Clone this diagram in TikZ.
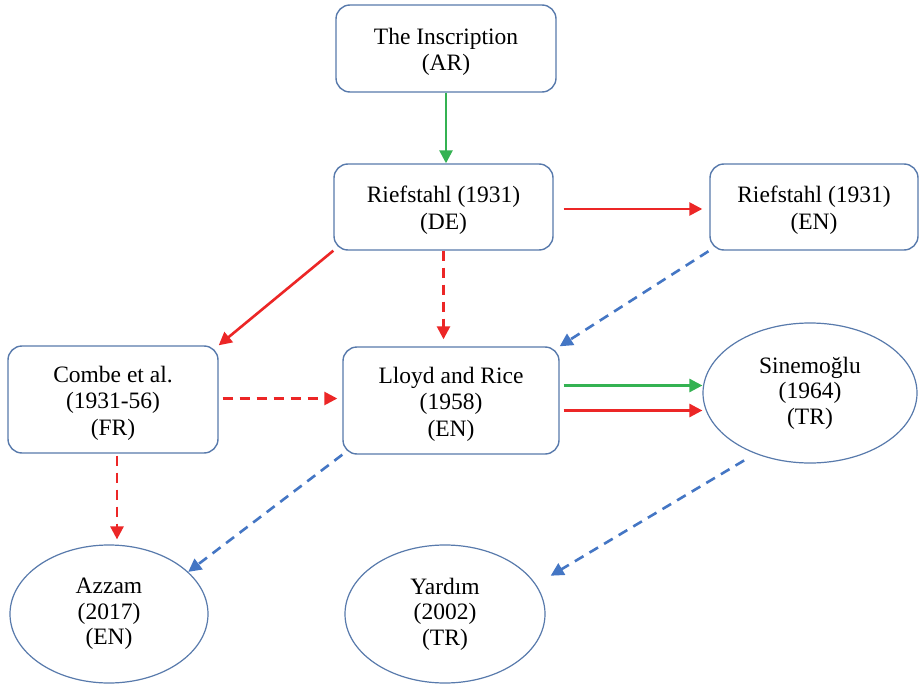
\documentclass[tikz,border=0pt]{standalone}
\usepackage{fontspec}
\setmainfont{Liberation Serif}
\usetikzlibrary{arrows.meta,shapes.geometric}
\definecolor{bordblue}{RGB}{88,122,172}
\definecolor{arred}{RGB}{236,38,38}
\definecolor{argreen}{RGB}{52,178,82}
\definecolor{arblue}{RGB}{68,118,196}
\newcommand{\tstrut}{\rule{0pt}{23pt}}
\begin{document}
\begin{tikzpicture}[x=1pt,y=-1pt,
  box/.style={draw=bordblue, line width=1.4pt, rounded corners=14pt, fill=white,
    align=center, inner sep=0pt, font=\fontsize{23.5}{26.5}\selectfont},
  oval/.style={ellipse, draw=bordblue, line width=1.2pt, fill=white,
    align=center, inner sep=0pt, font=\fontsize{23.5}{25.5}\selectfont},
  arr/.style={line width=2.6pt, -{Triangle[length=13pt,width=13pt]}},
  dsh/.style={dash pattern=on 10pt off 7pt},
]
\useasboundingbox (0,0) rectangle (921,690);
\fill[white] (0,0) rectangle (921,690);

\node[box, minimum width=220pt, minimum height=87pt] (ins) at (446,48.5) {\tstrut The Inscription\\(AR)};
\node[box, minimum width=219pt, minimum height=86pt] (rde) at (443.5,207) {\tstrut Riefstahl (1931)\\(DE)};
\node[box, minimum width=208pt, minimum height=86pt] (ren) at (814,207) {\tstrut Riefstahl (1931)\\(EN)};
\node[box, minimum width=210pt, minimum height=107pt] (combe) at (113,399.5) {\tstrut Combe et al.\\(1931-56)\\(FR)};
\node[box, minimum width=216pt, minimum height=107pt] (lloyd) at (451,400.5) {\tstrut Lloyd and Rice\\(1958)\\(EN)};
\node[oval, minimum width=214pt, minimum height=140pt] (sin) at (810,393) {Sinemoğlu\\(1964)\\(TR)};
\node[oval, minimum width=198pt, minimum height=138pt] (azz) at (109,614) {Azzam\\(2017)\\(EN)};
\node[oval, minimum width=200pt, minimum height=138pt] (yar) at (445,614) {Yardım\\(2002)\\(TR)};

\draw[arr, argreen] (ins.south) -- (ins.south |- rde.north);
\draw[arr, arred] ([xshift=10pt,yshift=-2pt]rde.east) -- ([xshift=-7pt,yshift=-2pt]ren.west);
\draw[arr, arred] (rde.south west) -- (combe.north east);
\draw[arr, arred, dsh, shorten >=7pt] (rde.south) -- (rde.south |- lloyd.north);
\draw[arr, arblue, dsh, shorten <=1pt] (ren.south west) -- (lloyd.north east);
\draw[arr, arred, dsh] ([xshift=4pt,yshift=1pt]combe.east) -- ([xshift=-5pt,yshift=1pt]combe.east -| lloyd.west);
\draw[arr, argreen] ([xshift=4pt,yshift=15pt]lloyd.east) -- ([yshift=15pt]lloyd.east -| sin.west);
\draw[arr, arred] ([xshift=4pt,yshift=-10pt]lloyd.east) -- ([yshift=-10pt]lloyd.east -| sin.west);
\draw[arr, arred, dsh, shorten <=2pt, shorten >=5pt] ([xshift=4pt]combe.south) -- ([xshift=4pt]combe.south |- azz.north);
\draw[arr, arblue, dsh] (lloyd.south west) -- (azz.28);
\draw[arr, arblue, dsh, shorten <=13pt, shorten >=17pt] (sin.228) -- (yar.18);
\end{tikzpicture}
\end{document}
